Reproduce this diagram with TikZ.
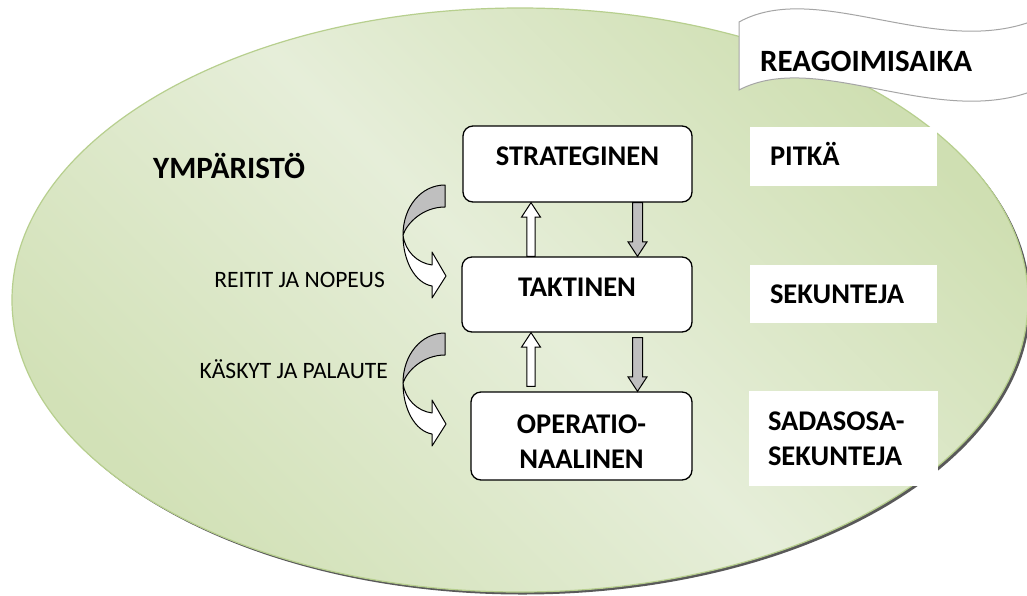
\documentclass[tikz,border=0pt]{standalone}
\usepackage{fontspec}
\setmainfont{Carlito}
\usetikzlibrary{calc}
\definecolor{ellDark}{HTML}{CFDFB2}
\definecolor{ellLight}{HTML}{E6EED9}
\definecolor{ellDarkB}{HTML}{D2E1B7}
\definecolor{ellEdge}{HTML}{B7CF8E}
\definecolor{arrGray}{HTML}{BFBFBF}
\definecolor{bannerEdge}{HTML}{A5A5A5}
\tikzset{
  levelbox/.style={draw=black, line width=1.3pt, fill=white, rounded corners=10pt, inner sep=0pt,
    font=\fontsize{28.5}{35}\selectfont\bfseries, align=center},
  timebox/.style={fill=white, inner xsep=20pt, inner ysep=0pt, align=left,
    font=\fontsize{28.5}{35}\selectfont\bfseries},
  bigtxt/.style={font=\fontsize{31}{37}\selectfont\bfseries, inner sep=0pt},
  smalltxt/.style={font=\fontsize{23.5}{28}\selectfont, inner sep=0pt},
  upblock/.style={draw=black, fill=white, line width=1pt,
    to path={let \p1=(\tikztostart), \p2=(\tikztotarget) in
      (\x1-4.2pt,\y1) -- (\x1-4.2pt,\y2-14.5pt) -- (\x1-9.5pt,\y2-14.5pt) -- (\x1,\y2)
      -- (\x1+9.5pt,\y2-14.5pt) -- (\x1+4.2pt,\y2-14.5pt) -- (\x1+4.2pt,\y1) -- cycle}},
  downblock/.style={draw=black, fill=arrGray, line width=1pt,
    to path={let \p1=(\tikztostart), \p2=(\tikztotarget) in
      (\x1-5pt,\y1) -- (\x1-5pt,\y2+14.5pt) -- (\x1-9.5pt,\y2+14.5pt) -- (\x1,\y2)
      -- (\x1+9.5pt,\y2+14.5pt) -- (\x1+5pt,\y2+14.5pt) -- (\x1+5pt,\y1) -- cycle}},
  curvearrow/.pic={
    \draw[black, line width=1pt, fill=arrGray, line join=round]
      (0,0) .. controls (-24,0) and (-42,22) .. (-42,50)
      .. controls (-38,38) and (-22,22) .. (0,22) -- cycle;
    \draw[black, line width=1pt, fill=white, line join=round]
      (-42,50) .. controls (-42,76) and (-30,98) .. (-13,101)
      -- (-13,113) -- (1,91) -- (-13,67) -- (-13,80)
      .. controls (-28,78) and (-40,66) .. (-42,50) -- cycle;
  }
}
\begin{document}
\begin{tikzpicture}[x=1pt,y=-1pt]
\fill[white] (0,0) rectangle (1027,595);
\useasboundingbox (0,0) rectangle (1027,595);

% environment ellipse with shadow
\fill[black!65] (522.5,302.5) ellipse [x radius=508, y radius=292];
\shade[top color=ellDark, bottom color=ellDarkB, middle color=ellLight, shading angle=-45]
  (520,300) ellipse [x radius=508, y radius=292];
\draw[ellEdge, line width=1.2pt] (520,300) ellipse [x radius=508, y radius=292];

% banner
\draw[bannerEdge, line width=1pt, fill=white]
  (739,22) .. controls (815,-20) and (930,55) .. (1027,23) -- (1045,15) -- (1045,85) -- (1027,93)
  .. controls (930,125) and (815,50) .. (739,90) -- cycle;
\node[bigtxt, anchor=base west] (reag) at (760,71) {REAGOIMISAIKA};

% level boxes
\node[levelbox, minimum width=229pt, minimum height=76pt, text height=18.4pt, text depth=16.4pt]
  (str) at (577.5,164) {STRATEGINEN};
\node[levelbox, minimum width=230pt, minimum height=75pt, text height=18.4pt, text depth=15.4pt]
  (tak) at (577,294.5) {TAKTINEN};
\node[levelbox, minimum width=221pt, minimum height=88pt]
  (ope) at (581.5,436) {\rule{0pt}{30pt}OPERATIO-\\NAALINEN};

% block arrows between levels
\coordinate (lx) at (531,0);
\coordinate (rx) at (637.5,0);
\draw[upblock] (tak.north -| lx) to (str.south -| lx);
\draw[downblock] (str.south -| rx) to (tak.north -| rx);
\draw[upblock] ($(ope.north -| lx)+(0,-5)$) to (tak.south -| lx);
\draw[downblock] ($(tak.south -| rx)+(0,5)$) to (ope.north -| rx);

% curved arrows
\pic at (445,185) {curvearrow};
\pic at (445,333) {curvearrow};

% labels
\node[bigtxt, anchor=base west] (env) at (153,178) {YMPÄRISTÖ};
\node[smalltxt, anchor=base east] (reitit) at (385,287) {REITIT JA NOPEUS};
\node[smalltxt, anchor=base east] (kaskyt) at (388,378) {KÄSKYT JA PALAUTE};

% reaction time boxes
\node[timebox, text width=147pt, minimum height=59pt, text height=18.4pt, text depth=0pt]
  (pitka) at (843.5,156.5) {PITKÄ};
\node[timebox, text width=147pt, minimum height=58pt, text height=18.4pt, text depth=0pt]
  (sek) at (843.5,294) {SEKUNTEJA};
\node[timebox, inner xsep=19pt, text width=151pt, minimum height=95pt]
  (sad) at (843.5,438.5) {SADASOSA-\\SEKUNTEJA};
\end{tikzpicture}
\end{document}
